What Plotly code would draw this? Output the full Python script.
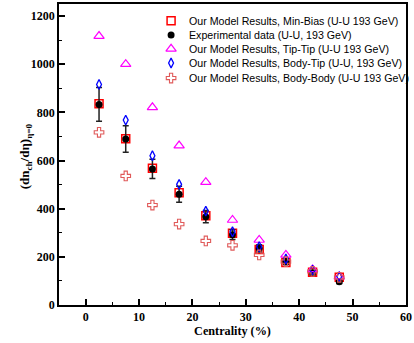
import plotly.graph_objects as go

centrality = [2.5, 7.5, 12.5, 17.5, 22.5, 27.5, 32.5, 37.5, 42.5, 47.5]
min_bias = [836, 690, 568, 466, 371, 298, 231, 177, 136, 115]
exp_data = [833, 689, 565, 460, 367, 292, 235, 180, 134, 97]
exp_err = [70, 55, 40, 33, 25, 20, 15, 12, 10, 8]
tip_tip = [1117, 1000, 821, 662, 510, 353, 270, 208, 148, 118]
body_tip = [916, 768, 620, 501, 390, 304, 242, 191, 145, 118]
body_body = [717, 536, 415, 336, 266, 248, 208, 180, 140, 115]

series_names = [
    "Our Model Results, Min-Bias (U-U 193 GeV)",
    "Experimental data (U-U, 193 GeV)",
    "Our Model Results, Tip-Tip (U-U 193 GeV)",
    "Our Model Results, Body-Tip (U-U, 193 GeV)",
    "Our Model Results, Body-Body (U-U 193 GeV)",
]

x_ticks = [0, 10, 20, 30, 40, 50, 60]
y_ticks = [0, 200, 400, 600, 800, 1000, 1200]

markers = [
    dict(symbol="square-open", size=8, color="#ff0000", line=dict(width=1.5)),
    dict(symbol="circle", size=7, color="#000000"),
    dict(symbol="triangle-up-open", size=9, color="#ff00ff", line=dict(width=1.2)),
    dict(symbol="diamond-tall-open", size=7, color="#0000ff", line=dict(width=1.3)),
    dict(symbol="cross-open", size=8, color="#e05a5a", line=dict(width=1.1)),
]
values = [min_bias, exp_data, tip_tip, body_tip, body_body]

fig = go.Figure()
for i, (name, vals, mk) in enumerate(zip(series_names, values, markers)):
    kw = {}
    if i == 1:
        kw["error_y"] = dict(type="data", array=exp_err, color="#222222", thickness=1.5, width=3)
    fig.add_trace(go.Scatter(x=centrality, y=vals, mode="markers", name=name,
                             marker=mk, showlegend=False, **kw))

# legend drawn in an overlay axis (0..1 coordinates of the plot area)
leg_x_marker = 0.323
leg_x_text = 0.371
leg_y = [0.944, 0.897, 0.851, 0.804, 0.754]
for name, mk, ly in zip(series_names, markers, leg_y):
    fig.add_trace(go.Scatter(x=[leg_x_marker], y=[ly], mode="markers", marker=mk,
                             xaxis="x2", yaxis="y2", showlegend=False, hoverinfo="skip"))
    fig.add_annotation(text=name, xref="paper", yref="paper", x=leg_x_text, y=ly,
                       xanchor="left", yanchor="middle", showarrow=False, borderpad=0,
                       font=dict(family="Liberation Sans", size=10.65, color="#000"))

tickfont = dict(family="Liberation Serif", size=12, color="#000000")
fig.update_layout(
    width=414, height=343,
    margin=dict(l=59, r=2, t=4, b=38),
    paper_bgcolor="white", plot_bgcolor="white",
    showlegend=False,
    xaxis=dict(range=[-5, 60], tickvals=x_ticks, ticktext=["<b>%d</b>" % v for v in x_ticks],
               ticks="inside", ticklen=6, tickwidth=1.5, tickcolor="#000",
               ticklabeloverflow="allow",
               minor=dict(dtick=5, ticks="inside", ticklen=3, tickwidth=1, tickcolor="#000"),
               showline=True, linecolor="#000", linewidth=1.5, mirror=True,
               showgrid=False, zeroline=False, tickfont=tickfont,
               title=dict(text="<b>Centrality (%)</b>", font=dict(family="Liberation Serif", size=12.2, color="#000"), standoff=3)),
    yaxis=dict(range=[0, 1250], tickvals=y_ticks, ticktext=["<b>%d</b>" % v for v in y_ticks],
               ticks="inside", ticklen=6, tickwidth=1.5, tickcolor="#000",
               minor=dict(dtick=100, ticks="inside", ticklen=3, tickwidth=1, tickcolor="#000"),
               showline=True, linecolor="#000", linewidth=1.5, mirror=True,
               showgrid=False, zeroline=False, tickfont=tickfont),
    xaxis2=dict(range=[0, 1], overlaying="x", visible=False, fixedrange=True),
    yaxis2=dict(range=[0, 1], overlaying="y", visible=False, fixedrange=True),
)
fig.add_annotation(text="<b>(dn<sub>ch</sub>/dη)<sub>η=0</sub></b>", textangle=-90,
                   xref="paper", yref="paper", x=-0.096, y=0.493, xanchor="center", yanchor="middle",
                   showarrow=False, font=dict(family="Liberation Serif", size=13, color="#000"))
fig.write_html("out.html")
